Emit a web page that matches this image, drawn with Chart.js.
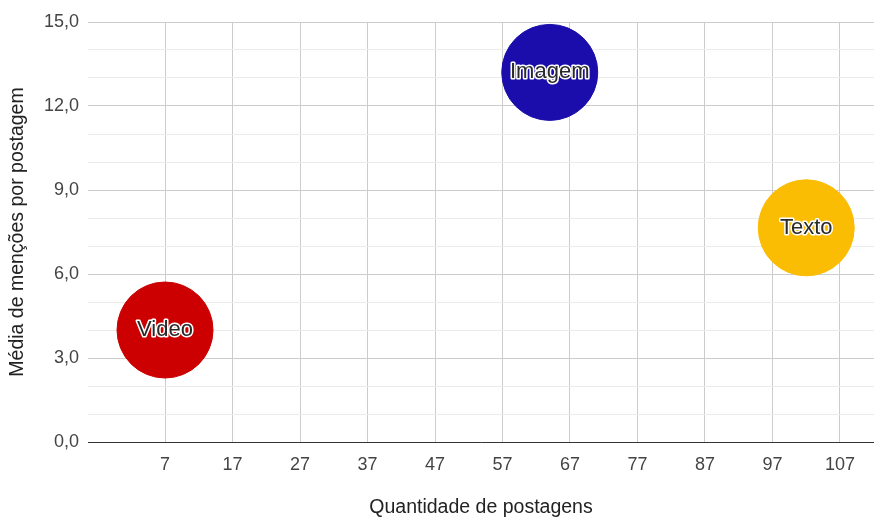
<!DOCTYPE html>
<html>
<head>
<meta charset="utf-8">
<script src="https://cdn.jsdelivr.net/npm/chart.js@4.4.0/dist/chart.umd.min.js"></script>
<style>
  html, body { margin: 0; padding: 0; background: #fff; }
  #wrap { width: 874px; height: 519px; }
</style>
</head>
<body>
<div id="wrap"><canvas id="myChart"></canvas></div>
<script>
const categories = ['Video', 'Imagem', 'Texto'];
const posts = [7, 64, 102];
const mentions = [4.0, 13.2, 7.65];
const colors = ['#cc0000', '#1a0dab', '#fbbc04'];
const xTicks = [7, 17, 27, 37, 47, 57, 67, 77, 87, 97, 107];

const font = 'Liberation Sans, Arial, sans-serif';

// bubble names, dark text with a white halo
const bubbleLabels = {
  id: 'bubbleLabels',
  afterDatasetsDraw(chart) {
    const c = chart.ctx;
    const meta = chart.getDatasetMeta(0);
    c.save();
    c.font = '22px ' + font;
    c.textAlign = 'center';
    c.textBaseline = 'middle';
    c.lineJoin = 'round';
    meta.data.forEach((pt, i) => {
      c.strokeStyle = '#ffffff';
      c.lineWidth = 3;
      c.strokeText(categories[i], pt.x, pt.y);
      c.fillStyle = '#2a2a2a';
      c.fillText(categories[i], pt.x, pt.y);
    });
    c.restore();
  }
};

const ctx = document.getElementById('myChart').getContext('2d');

const myChart = new Chart(ctx, {
  type: 'bubble',
  data: {
    datasets: [{
      label: 'Postagens',
      data: posts.map((p, i) => ({ x: p, y: mentions[i] })),
      backgroundColor: colors,
      borderColor: colors,
      borderWidth: 1,
      radius: 48
    }]
  },
  options: {
    responsive: true,
    maintainAspectRatio: false,
    animation: false,
    events: [],
    layout: { autoPadding: false, padding: { top: 22, right: 0, left: 0, bottom: 0 } },
    scales: {
      x: {
        type: 'linear',
        min: -4.41,
        max: 112.04,
        afterBuildTicks: (s) => { s.ticks = xTicks.map(v => ({ value: v })); },
        afterFit: (s) => { s.height = 77; },
        grid: { color: '#cccccc', drawTicks: false },
        border: { display: true, color: '#333333', width: 1 },
        ticks: {
          autoSkip: false,
          maxRotation: 0,
          padding: 12,
          color: '#444444',
          font: { family: font, size: 18 },
          callback: (v) => String(v)
        },
        title: {
          display: true,
          text: 'Quantidade de postagens',
          color: '#222222',
          font: { family: font, size: 19.5 },
          padding: { top: 0, bottom: 0 }
        }
      },
      y: {
        min: 0,
        max: 15,
        afterFit: (s) => { s.width = 88; },
        grid: {
          drawTicks: false,
          color: (c) => (c.tick && c.tick.value % 3 === 0) ? '#cccccc' : '#ebebeb'
        },
        border: { display: false },
        ticks: {
          stepSize: 1,
          autoSkip: false,
          padding: 9,
          color: '#444444',
          font: { family: font, size: 18 },
          callback: (v) => v % 3 === 0 ? v.toFixed(1).replace('.', ',') : ''
        },
        title: {
          display: true,
          text: 'Média de menções por postagem',
          color: '#222222',
          font: { family: font, size: 19.5 },
          padding: { top: 6, bottom: 0 }
        }
      }
    },
    plugins: {
      legend: { display: false },
      tooltip: { enabled: false }
    }
  },
  plugins: [bubbleLabels]
});
</script>
</body>
</html>
